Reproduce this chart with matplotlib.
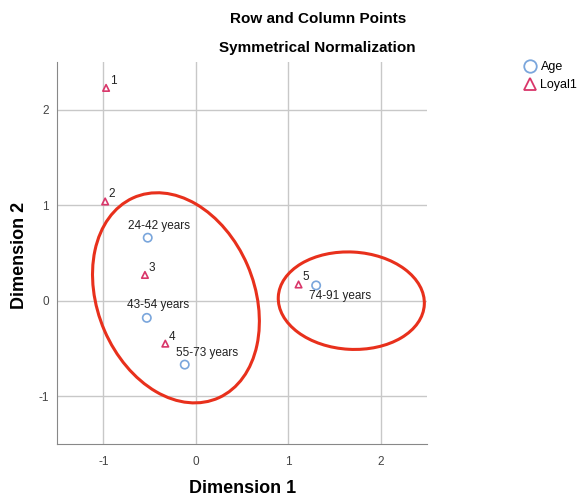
import matplotlib.pyplot as plt
from matplotlib.patches import Ellipse
from matplotlib.lines import Line2D

plt.rcParams["font.family"] = ["Liberation Sans", "DejaVu Sans"]
plt.rcParams["axes.unicode_minus"] = False

# column points (Age)
age_labels = ["24-42 years", "43-54 years", "55-73 years", "74-91 years"]
age_x = [-0.52, -0.53, -0.12, 1.30]
age_y = [0.66, -0.18, -0.67, 0.16]

# row points (Loyal1)
loyal_labels = ["1", "2", "3", "4", "5"]
loyal_x = [-0.97, -0.98, -0.55, -0.33, 1.11]
loyal_y = [2.23, 1.04, 0.27, -0.45, 0.17]

# label offsets in pixels (dx, dy; up is positive)
age_offsets = [(11, 12), (11, 13), (22, 12), (24, -11)]
loyal_offset = (7, 7)

age_color = "#7aa6dc"
loyal_color = "#d9366a"
circle_red = "#e8301c"

fig = plt.figure(figsize=(5.82, 4.97), dpi=100)
ax = fig.add_axes([0.098, 0.107, 0.636, 0.768])

ax.set_xlim(-1.5, 2.5)
ax.set_ylim(-1.5, 2.5)
ax.set_xticks([-1, 0, 1, 2])
ax.set_yticks([-1, 0, 1, 2])
ax.grid(True, color="#c8c8c8", linewidth=1)
ax.set_axisbelow(True)
for s in ["top", "right"]:
    ax.spines[s].set_visible(False)
for s in ["left", "bottom"]:
    ax.spines[s].set_color("#888888")
ax.tick_params(length=0, labelsize=8.5, colors="#444444")
ax.tick_params(axis="x", pad=9)
ax.tick_params(axis="y", pad=6)

ax.scatter(age_x, age_y, marker="o", s=36, facecolors="none",
           edgecolors=age_color, linewidths=1.2, zorder=3)
ax.scatter(loyal_x, loyal_y, marker="^", s=22, facecolors="none",
           edgecolors=loyal_color, linewidths=1.2, zorder=3)

for lab, x, y, (dx, dy) in zip(age_labels, age_x, age_y, age_offsets):
    ax.annotate(lab, (x, y), xytext=(dx, dy), textcoords="offset pixels",
                ha="center", va="center", fontsize=8.5, color="#222222")
for lab, x, y in zip(loyal_labels, loyal_x, loyal_y):
    ax.annotate(lab, (x, y), xytext=loyal_offset, textcoords="offset pixels",
                ha="center", va="center", fontsize=8.5, color="#222222")

# hand-drawn style group ellipses
ax.add_patch(Ellipse((-0.215, 0.03), 1.69, 2.29, angle=24, fill=False,
                     edgecolor=circle_red, linewidth=2.2, zorder=4))
ax.add_patch(Ellipse((1.68, 0.0), 1.58, 1.02, angle=-3, fill=False,
                     edgecolor=circle_red, linewidth=2.2, zorder=4))

fig.text(0.546, 0.962, "Row and Column Points", ha="center", va="center",
         fontsize=11, fontweight="bold")
fig.text(0.546, 0.903, "Symmetrical Normalization", ha="center", va="center",
         fontsize=11, fontweight="bold")
fig.text(0.416, 0.018, "Dimension 1", ha="center", va="center",
         fontsize=13, fontweight="bold")
fig.text(0.033, 0.487, "Dimension 2", ha="center", va="center",
         fontsize=13, fontweight="bold", rotation=90)

handles = [
    Line2D([], [], marker="o", linestyle="none", markerfacecolor="none",
           markeredgecolor=age_color, markersize=9, markeredgewidth=1.3),
    Line2D([], [], marker="^", linestyle="none", markerfacecolor="none",
           markeredgecolor=loyal_color, markersize=8, markeredgewidth=1.3),
]
fig.legend(handles, ["Age", "Loyal1"], loc="upper left",
           bbox_to_anchor=(0.89, 0.89), frameon=False, fontsize=9,
           handletextpad=0.3, borderpad=0, labelspacing=0.5, handlelength=1.0)

fig.savefig("out.png", dpi=100)
